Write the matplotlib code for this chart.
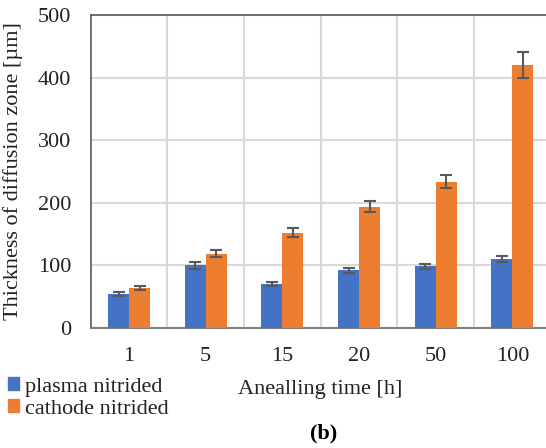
import numpy as np
import matplotlib.pyplot as plt
from matplotlib.patches import Patch

plt.rcParams['font.family'] = ['Liberation Serif', 'DejaVu Serif']

# annealing time categories
times = ['1', '5', '15', '20', '50', '100']
plasma = [54, 100, 70, 92, 99, 110]
plasma_err = [3, 5, 3, 4, 4, 5]
cathode = [64, 119, 152, 194, 234, 420]
cathode_err = [3, 6, 7, 9, 11, 21]

blue = '#4472C4'
orange = '#ED7D31'
fs = 16

fig = plt.figure(figsize=(5.46, 4.48), dpi=100)
# axes run a bit past the right edge, like the cropped original
ax = fig.add_axes([90.7 / 546, 1 - 328 / 448, 460 / 546, 313 / 448])

x = np.arange(len(times))
w = 0.274
ebar = dict(ecolor='#595959', elinewidth=1.5, capsize=4, capthick=1.5)
ax.bar(x - w / 2, plasma, w, yerr=plasma_err, color=blue, error_kw=ebar, zorder=3)
ax.bar(x + w / 2, cathode, w, yerr=cathode_err, color=orange, error_kw=ebar, zorder=3)

ax.set_xlim(-0.5, len(times) - 0.5)
ax.set_ylim(0, 500)
ax.set_yticks(range(0, 501, 100))
ax.set_xticks(x)
ax.set_xticklabels(times)
ax.tick_params(length=0, labelsize=fs, colors='#222222')
ax.tick_params(axis='y', pad=14)
ax.tick_params(axis='x', pad=14)

# gridlines between categories and at y ticks
ax.set_xticks(np.arange(0.5, len(times) - 0.5, 1), minor=True)
ax.grid(axis='x', which='minor', color='#D9D9D9', linewidth=1.5, zorder=0)
ax.grid(axis='y', which='major', color='#D9D9D9', linewidth=1.5, zorder=0)
ax.tick_params(which='minor', length=0)

for s in ['top', 'left', 'right']:
    ax.spines[s].set_color('#595959')
    ax.spines[s].set_linewidth(1.2)
ax.spines['bottom'].set_color('#7F7F7F')
ax.spines['bottom'].set_linewidth(1.5)

fig.text(13 / 546, 1 - 171 / 448, 'Thickness of diffusion zone [µm]', fontsize=fs,
         rotation=90, ha='center', va='center', color='#222222')
fig.text(320 / 546, 1 - 389 / 448, 'Anealling time [h]', fontsize=fs,
         ha='center', va='center', color='#222222')
fig.text(324 / 546, 1 - 433 / 448, '(b)', fontsize=fs, fontweight='bold',
         ha='center', va='center')

handles = [Patch(color=blue, label='plasma nitrided'),
           Patch(color=orange, label='cathode nitrided')]
leg = fig.legend(handles=handles, loc='center left',
                 bbox_to_anchor=(8 / 546, 1 - 398 / 448),
                 frameon=False, fontsize=fs, handlelength=0.5, handleheight=0.5,
                 handletextpad=0.25, labelspacing=0.12, borderpad=0, borderaxespad=0)
for t in leg.get_texts():
    t.set_color('#222222')

fig.savefig('out.png', dpi=100)
